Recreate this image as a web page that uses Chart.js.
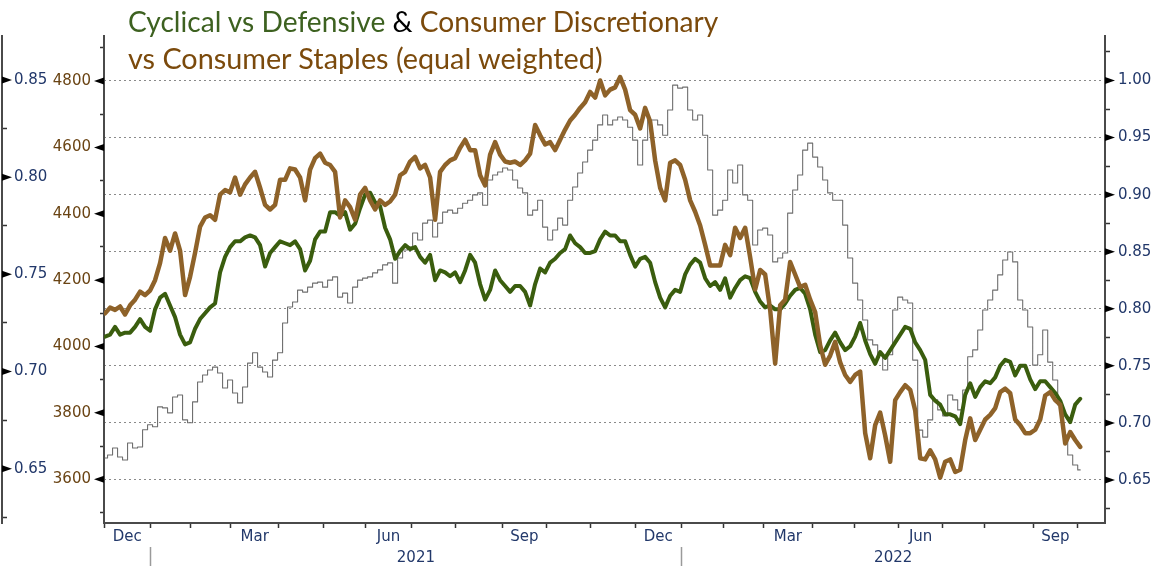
<!DOCTYPE html>
<html>
<head>
<meta charset="utf-8">
<script src="https://cdn.jsdelivr.net/npm/chart.js@4.4.0/dist/chart.umd.min.js"></script>
<style>
  html, body { margin: 0; padding: 0; background: #fff; }
  #wrap { position: relative; width: 1174px; height: 566px; overflow: hidden; }
  #chart { position: absolute; left: 0; top: 0; }
  .title { position: absolute; left: 128px; font-family: Lato, "Open Sans", sans-serif; font-size: 28px;
           line-height: 28px; white-space: nowrap; transform-origin: 0 0; color: #7b4a0c; }
</style>
</head>
<body>
<div id="wrap">
  <canvas id="chart" width="1174" height="566"></canvas>
  <div class="title" id="t1" style="top:7px"><span style="color:#3d6120">Cyclical vs Defensive</span> <span style="color:#000">&amp;</span> Consumer Discretionary</div>
  <div class="title" id="t2" style="top:44px">vs Consumer Staples (equal weighted)</div>
</div>
<script>
// x axis is counted in trading days from 1 Dec 2020
const monthStarts = [0, 22, 41, 60, 83, 104, 124, 146, 167, 189, 210, 231, 252, 274, 294, 313, 336, 356, 377, 398, 418, 441, 462];
const monthLabels = ['Dec', 'Mar', 'Jun', 'Sep', 'Dec', 'Mar', 'Jun', 'Sep'];
const monthLabelDays = [11, 71.5, 135, 199.5, 263, 324.5, 387.5, 451.5];
const yearLabels = ['2021', '2022'];
const yearLabelDays = [148, 374.5];
const yearStarts = [22, 274];

// one reading every ~2.4 trading days
const firstDay = 0.5;
const stepDays = 2.373;

// Cyclical vs Defensive (far left axis)
const cyclicalDefensive = [
  0.718,0.719,0.723,0.719,0.720,0.720,0.723,0.727,0.723,0.721,
  0.732,0.738,0.740,0.734,0.728,0.719,0.714,0.715,0.722,0.727,
  0.730,0.733,0.735,0.751,0.759,0.764,0.767,0.767,0.769,0.770,
  0.769,0.765,0.754,0.761,0.764,0.767,0.766,0.765,0.767,0.763,
  0.752,0.757,0.768,0.772,0.772,0.782,0.782,0.780,0.782,0.773,
  0.776,0.784,0.791,0.792,0.787,0.785,0.774,0.768,0.758,0.762,
  0.765,0.763,0.764,0.759,0.756,0.760,0.747,0.752,0.751,0.749,
  0.751,0.746,0.752,0.760,0.756,0.745,0.737,0.742,0.752,0.747,
  0.744,0.741,0.744,0.744,0.741,0.734,0.745,0.753,0.751,0.756,
  0.758,0.761,0.763,0.770,0.766,0.764,0.761,0.761,0.762,0.768,
  0.772,0.770,0.770,0.767,0.767,0.760,0.754,0.758,0.759,0.756,
  0.746,0.738,0.733,0.739,0.742,0.741,0.750,0.755,0.758,0.756,
  0.748,0.744,0.746,0.742,0.748,0.738,0.743,0.747,0.749,0.748,
  0.741,0.736,0.733,0.734,0.732,0.732,0.735,0.739,0.742,0.743,
  0.740,0.732,0.719,0.710,0.711,0.716,0.720,0.715,0.711,0.713,
  0.718,0.725,0.716,0.709,0.704,0.710,0.707,0.711,0.715,0.719,
  0.723,0.722,0.715,0.711,0.706,0.688,0.685,0.683,0.678,0.678,
  0.677,0.673,0.688,0.694,0.687,0.692,0.695,0.694,0.697,0.703,
  0.706,0.705,0.698,0.703,0.703,0.696,0.691,0.695,0.695,0.692,
  0.689,0.685,0.678,0.674,0.683,0.686
];

// Consumer Discretionary vs Consumer Staples (right axis)
const discStaples = [
  0.796,0.801,0.799,0.802,0.795,0.803,0.808,0.815,0.812,0.816,
  0.825,0.840,0.862,0.851,0.866,0.851,0.812,0.828,0.849,0.872,
  0.880,0.882,0.878,0.900,0.904,0.902,0.915,0.900,0.909,0.915,
  0.920,0.906,0.891,0.887,0.891,0.913,0.913,0.923,0.922,0.915,
  0.895,0.922,0.932,0.936,0.928,0.926,0.920,0.880,0.895,0.889,
  0.878,0.900,0.906,0.895,0.887,0.895,0.891,0.894,0.900,0.917,
  0.920,0.929,0.933,0.923,0.926,0.915,0.878,0.920,0.926,0.930,
  0.932,0.941,0.948,0.939,0.939,0.917,0.908,0.935,0.946,0.935,
  0.929,0.928,0.929,0.926,0.930,0.936,0.961,0.952,0.944,0.946,
  0.939,0.948,0.957,0.965,0.970,0.976,0.981,0.990,0.985,1.000,
  0.987,0.992,0.994,1.003,0.992,0.974,0.970,0.958,0.976,0.964,
  0.930,0.906,0.895,0.928,0.930,0.926,0.913,0.895,0.885,0.873,
  0.856,0.838,0.838,0.838,0.856,0.847,0.871,0.862,0.871,0.845,
  0.817,0.834,0.830,0.799,0.752,0.803,0.808,0.841,0.830,0.819,
  0.821,0.808,0.797,0.768,0.751,0.759,0.771,0.753,0.742,0.736,
  0.742,0.745,0.691,0.669,0.698,0.709,0.689,0.666,0.720,0.727,
  0.733,0.729,0.711,0.669,0.668,0.676,0.668,0.652,0.666,0.668,
  0.657,0.659,0.685,0.704,0.685,0.694,0.703,0.707,0.713,0.727,
  0.730,0.726,0.703,0.698,0.691,0.691,0.694,0.703,0.724,0.727,
  0.720,0.716,0.682,0.692,0.685,0.679
];

// S&P 500 (inner left axis)
const spx = [
  3664,3673,3694,3667,3658,3709,3694,3697,3749,3764,
  3758,3818,3815,3800,3848,3854,3779,3770,3833,3893,
  3914,3929,3938,3920,3875,3899,3860,3830,3878,3950,
  3981,3938,3923,3908,3959,3981,4071,4119,4134,4170,
  4164,4179,4191,4194,4179,4200,4210,4149,4161,4131,
  4179,4200,4206,4210,4222,4231,4246,4252,4191,4267,
  4291,4300,4342,4321,4372,4381,4330,4372,4405,4411,
  4402,4417,4432,4441,4457,4463,4426,4502,4517,4526,
  4538,4532,4502,4478,4463,4396,4411,4441,4360,4321,
  4351,4387,4366,4441,4481,4523,4556,4592,4622,4668,
  4698,4668,4683,4692,4683,4661,4622,4547,4622,4683,
  4683,4668,4637,4713,4788,4779,4782,4713,4683,4698,
  4637,4532,4396,4411,4441,4532,4493,4547,4457,4441,
  4306,4351,4357,4336,4255,4267,4282,4402,4472,4517,
  4592,4613,4571,4541,4502,4463,4441,4441,4366,4267,
  4191,4140,4080,4020,4005,3975,3929,3975,4110,4149,
  4140,4131,3959,3748,3727,3779,3839,3809,3791,3854,
  3839,3809,3869,3969,3990,4050,4110,4140,4170,4216,
  4261,4285,4255,4140,4110,4059,3944,3975,4050,3953,
  3899,3824,3733,3673,3643,3628
];

const farMajor = [0.65, 0.70, 0.75, 0.80, 0.85];
const farMinor = [0.625, 0.675, 0.725, 0.775, 0.825];
const spxMajor = [3600, 3800, 4000, 4200, 4400, 4600, 4800];
const spxMinor = [3500, 3700, 3900, 4100, 4300, 4500, 4700, 4900];
const rightMajor = [0.65, 0.70, 0.75, 0.80, 0.85, 0.90, 0.95, 1.00];
const rightMinor = [0.625, 0.675, 0.725, 0.775, 0.825, 0.875, 0.925, 0.975, 1.025];

const navy = '#22386a';
const spxLabel = '#6a4414';
const axisLine = '#4a4a4a';
const tickFont = { family: 'DejaVu Sans', size: 15 };
const clear = 'rgba(0,0,0,0)';

const has = (list, v) => list.some(m => Math.abs(m - v) < 1e-9);
const points = arr => arr.map((v, i) => ({ x: firstDay + i * stepDays, y: v }));

// black arrow heads on the labelled ticks of the value axes
const axisArrows = {
  id: 'axisArrows',
  afterDraw(chart) {
    const ctx = chart.ctx;
    const specs = [
      { id: 'yFar', majors: farMajor, base: s => s.right, dir: 1 },
      { id: 'ySpx', majors: spxMajor, base: s => s.right, dir: -1 },
      { id: 'yRight', majors: rightMajor, base: s => s.left, dir: 1 }
    ];
    ctx.save();
    ctx.fillStyle = '#000';
    specs.forEach(sp => {
      const s = chart.scales[sp.id];
      const bx = sp.base(s);
      sp.majors.forEach(v => {
        const y = s.getPixelForValue(v);
        ctx.beginPath();
        ctx.moveTo(bx, y - 3.5);
        ctx.lineTo(bx + sp.dir * 10, y);
        ctx.lineTo(bx, y + 3.5);
        ctx.closePath();
        ctx.fill();
      });
    });
    ctx.restore();
  }
};

new Chart(document.getElementById('chart'), {
  type: 'line',
  data: {
    datasets: [
      {
        label: 'Consumer Discretionary vs Consumer Staples',
        data: points(discStaples),
        yAxisID: 'yRight',
        borderColor: '#8e6229',
        borderWidth: 4.5,
        order: 0
      },
      {
        label: 'Cyclical vs Defensive',
        data: points(cyclicalDefensive),
        yAxisID: 'yFar',
        borderColor: '#3a5d0e',
        borderWidth: 4,
        order: 1
      },
      {
        label: 'S&P 500',
        data: points(spx),
        yAxisID: 'ySpx',
        borderColor: '#6f6f6f',
        borderWidth: 1.1,
        stepped: 'middle',
        order: 2
      }
    ]
  },
  options: {
    responsive: false,
    animation: false,
    layout: { padding: { top: 36, left: 0, right: 0, bottom: 0 } },
    elements: {
      point: { radius: 0 },
      line: { tension: 0, borderJoinStyle: 'round', borderCapStyle: 'round' }
    },
    plugins: { legend: { display: false }, tooltip: { enabled: false } },
    scales: {
      x: {
        type: 'linear', position: 'bottom', min: 0, max: 475, weight: 1,
        afterBuildTicks: s => {
          s.ticks = monthStarts.concat(monthLabelDays).sort((a, b) => a - b).map(v => ({ value: v }));
        },
        afterFit: s => { s.height = 24; },
        grid: {
          drawOnChartArea: false, tickLength: 5, tickWidth: 1.5,
          tickColor: c => monthStarts.includes(c.tick.value) ? '#333' : clear
        },
        border: { display: true, color: axisLine, width: 2 },
        ticks: {
          autoSkip: false, maxRotation: 0, padding: 0, color: navy, font: tickFont,
          callback: v => { const i = monthLabelDays.indexOf(v); return i >= 0 ? monthLabels[i] : ''; }
        }
      },
      xYear: {
        type: 'linear', position: 'bottom', min: 0, max: 475, weight: 2,
        afterBuildTicks: s => {
          s.ticks = yearStarts.concat(yearLabelDays).sort((a, b) => a - b).map(v => ({ value: v }));
        },
        afterFit: s => { s.height = 19; },
        grid: {
          drawOnChartArea: false, tickLength: 20, tickWidth: 1.5,
          tickColor: c => yearStarts.includes(c.tick.value) ? '#9a9a9a' : clear
        },
        border: { display: false },
        ticks: {
          autoSkip: false, maxRotation: 0, padding: -18, color: navy, font: tickFont,
          callback: v => { const i = yearLabelDays.indexOf(v); return i >= 0 ? yearLabels[i] : ''; }
        }
      },
      yFar: {
        type: 'linear', position: 'left', min: 0.6221, max: 0.8726, weight: 2,
        afterBuildTicks: s => { s.ticks = farMinor.concat(farMajor).sort((a, b) => a - b).map(v => ({ value: v })); },
        afterFit: s => { s.width = 2; },
        grid: {
          drawOnChartArea: false, tickLength: -5, tickWidth: 1.5,
          tickColor: c => has(farMajor, c.tick.value) ? clear : '#333'
        },
        border: { display: true, color: axisLine, width: 2 },
        ticks: {
          autoSkip: false, mirror: true, padding: 12, color: navy, font: tickFont,
          callback: v => has(farMajor, v) ? v.toFixed(2) : ''
        }
      },
      ySpx: {
        type: 'linear', position: 'left', min: 3468, max: 4936, weight: 1,
        afterBuildTicks: s => { s.ticks = spxMinor.concat(spxMajor).sort((a, b) => a - b).map(v => ({ value: v })); },
        afterFit: s => { s.width = 102; },
        grid: {
          drawOnChartArea: false, tickLength: 4, tickWidth: 1.5,
          tickColor: c => has(spxMajor, c.tick.value) ? clear : '#333'
        },
        border: { display: true, color: axisLine, width: 2 },
        ticks: {
          autoSkip: false, padding: 9, color: spxLabel, font: tickFont,
          callback: v => has(spxMajor, v) ? String(v) : ''
        }
      },
      yRight: {
        type: 'linear', position: 'right', min: 0.6123, max: 1.039,
        afterBuildTicks: s => { s.ticks = rightMinor.concat(rightMajor).sort((a, b) => a - b).map(v => ({ value: v })); },
        afterFit: s => { s.width = 69; },
        grid: {
          drawOnChartArea: true, lineWidth: 1,
          color: c => has(rightMajor, c.tick.value) ? '#8a8a8a' : clear,
          tickLength: 5, tickWidth: 1.5,
          tickColor: c => has(rightMajor, c.tick.value) ? clear : '#333'
        },
        border: { display: true, color: axisLine, width: 2, dash: [2, 3] },
        ticks: {
          autoSkip: false, padding: 8, color: navy, font: tickFont,
          callback: v => has(rightMajor, v) ? v.toFixed(2) : ''
        }
      }
    }
  },
  plugins: [axisArrows]
});

// squeeze the title lines to the width they have in the original
function fitTitle(id, width) {
  const el = document.getElementById(id);
  el.style.transform = 'scaleX(' + (width / el.offsetWidth) + ')';
}
fitTitle('t1', 590);
fitTitle('t2', 475);
</script>
</body>
</html>
